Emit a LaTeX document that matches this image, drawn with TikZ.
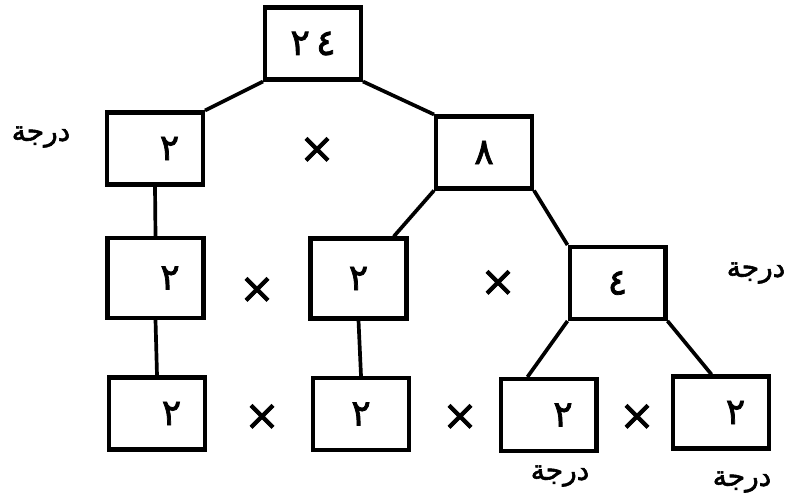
\documentclass[tikz,border=0pt]{standalone}
\usepackage{fontspec}
\usetikzlibrary{positioning}
\TeXXeTstate=1
\newfontfamily\arabicfont[Script=Arabic, FakeBold=2]{DejaVu Sans}

\begin{document}
\begin{tikzpicture}[x=0.02cm, y=-0.02cm,
  box/.style={draw, line width=2.3pt, minimum width=1.92cm, minimum height=1.44cm,
    inner sep=0pt, font=\arabicfont\huge},
  tall/.style={minimum height=1.6cm},
  rdigit/.style={execute at begin node={\hspace*{0.58cm}}},
  conn/.style={line width=2.1pt},
  times/.style={font=\arabicfont\fontsize{24}{24}\selectfont, inner sep=0pt},
  degree/.style={font=\arabicfont\fontsize{16}{16}\selectfont, inner sep=0pt},
]
\useasboundingbox (0,0) rectangle (786,499);

% top of the tree
\node[box] (root) at (313,43.5) {٢\,٤};

% first level
\node[box, rdigit] (twoA) at (155,148.5) {٢};
\node[box] (eight) at (484,152.5) {٨};
\node[times] (xA) at (317,150) {×};

% second level
\node[box, tall, rdigit] (twoB) at (155.5,278) {٢};
\node[box, tall] (twoC) at (358.5,278.5) {٢};
\node[box] (four) at (617.5,283) {٤};
\node[times] (xB) at (257,290) {×};
\node[times] (xC) at (498,283) {×};

% third level
\node[box, rdigit] (twoD) at (157,413.5) {٢};
\node[box] (twoE) at (361,414) {٢};
\node[box, rdigit] (twoF) at (548.5,415) {٢};
\node[box, rdigit] (twoG) at (721,412.5) {٢};
\node[times] (xD) at (262,417) {×};
\node[times] (xE) at (460,417) {×};
\node[times] (xF) at (637,417) {×};

% branches
\draw[conn] (root.south west) -- (twoA.north east);
\draw[conn] (root.south east) -- (eight.north west);
\draw[conn] (twoA.south) -- (twoB.north);
\draw[conn] (eight.south west) -- (twoC.50);
\draw[conn] (eight.south east) -- (four.north west);
\draw[conn] (twoB.south) -- (twoD.north);
\draw[conn] (twoC.south) -- (twoE.north);
\draw[conn] (four.south west) -- (twoF.119);
\draw[conn] (four.south east) -- (twoG.104);

% labels
\node[degree] (degA) at (41,137) {\beginR درجة\endR};
\node[degree] (degB) at (756,273) {\beginR درجة\endR};
\node[degree] (degC) at (560,476) {\beginR درجة\endR};
\node[degree] (degD) at (742,482) {\beginR درجة\endR};

\end{tikzpicture}
\end{document}
